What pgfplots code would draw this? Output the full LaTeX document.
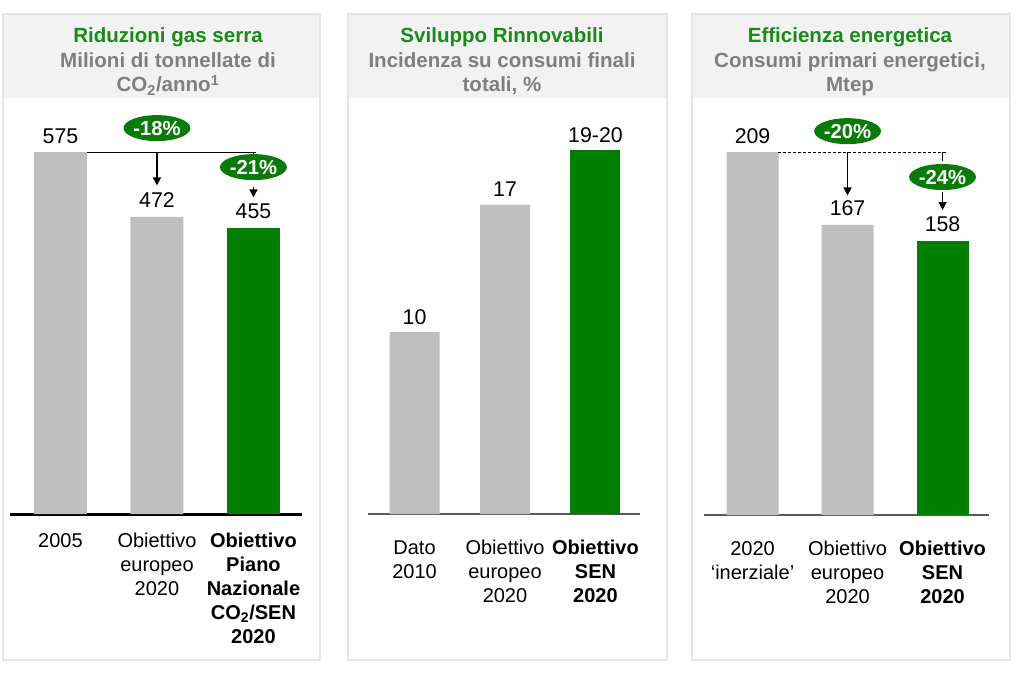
\documentclass[border=0pt]{standalone}
\usepackage{fontspec}
\setmainfont{Liberation Sans}
\usepackage{pgfplots}
\pgfplotsset{compat=1.18}
\usetikzlibrary{shapes.geometric,arrows.meta}
\definecolor{barg}{HTML}{BFBFBF}
\definecolor{bargreen}{HTML}{007F00}
\definecolor{titlegreen}{HTML}{1A8A1A}
\definecolor{ellgreen}{HTML}{0A7A0A}
\definecolor{subgray}{HTML}{7F7F7F}
\definecolor{headbg}{HTML}{F2F2F2}
\definecolor{framec}{HTML}{E6E6E6}
\definecolor{axgray}{HTML}{595959}
\pgfplotsset{
  panel/.style={
    scale only axis,
    axis x line*=bottom,
    axis y line=none,
    ymin=0,
    xtick={0,1,2},
    major tick length=0pt,
    xticklabel style={font=\fontsize{15}{18}\selectfont, align=center, anchor=north, inner sep=0pt},
    clip=false,
    /pgf/number format/assume math mode=true,
  },
  valnode/.style={nodes near coords, every node near coord/.append style={font=\fontsize{16}{19}\selectfont, anchor=base, inner sep=0pt, yshift=#1, text=black}},
}
\tikzset{
  pct/.style={ellipse, fill=ellgreen, minimum width=49.5pt, minimum height=19.5pt, inner sep=0pt, text=white, font=\bfseries\fontsize{15.2}{17}\selectfont},
  arr/.style={line width=1.1pt, -{Triangle[width=6pt,length=6pt]}},
}
\begin{document}
\begin{tikzpicture}
\begin{scope}[x=0.75pt,y=-0.75pt]
\useasboundingbox (0,0) rectangle (1024,674);
\fill[white] (0,0) rectangle (1024,674);
% frames
\foreach \a/\b in {3/320, 348/667, 692/1010}{
  \fill[headbg] (\a,14) rectangle (\b,98);
  \draw[framec, line width=1.5pt] (\a,14) rectangle (\b,660);
}
\tikzset{ttl/.style={anchor=base, text=titlegreen, font=\bfseries\fontsize{15.4}{18}\selectfont},
         sub/.style={anchor=base, text=subgray, font=\bfseries\fontsize{15.4}{18}\selectfont}}
\node[ttl] at (168,43) {Riduzioni gas serra};
\node[sub] at (168,68) {Milioni di tonnellate di};
\node[sub] at (168,92) {CO\textsubscript{2}/anno\textsuperscript{1}};
\node[ttl] at (502,43) {Sviluppo Rinnovabili};
\node[sub] at (502,68) {Incidenza su consumi finali};
\node[sub] at (502,92) {totali, \%};
\node[ttl] at (850,43) {Efficienza energetica};
\node[sub] at (850,68) {Consumi primari energetici,};
\node[sub] at (850,92) {Mtep};
\end{scope}

% Panel 1
\begin{axis}[panel, at={(7.5pt,-385.5pt)}, anchor=south west,
  width=219pt, height=283.3pt, xmin=-0.523, xmax=2.503, ymax=600,
  x axis line style={black, line width=2.25pt},
  xticklabel style={yshift=-14.25pt},
  xticklabels={{2005},{Obiettivo\\europeo\\2020},{\textbf{Obiettivo}\\\textbf{Piano}\\\textbf{Nazionale}\\\textbf{CO\textsubscript{2}/SEN}\\\textbf{2020}}}]
\addplot[ybar, bar width=39.75pt, bar shift=0pt, fill=barg, draw=none, valnode=6.75pt] coordinates {(0,575) (1,472)};
\addplot[ybar, bar width=39.75pt, bar shift=0pt, fill=bargreen, draw=none, valnode=6.75pt] coordinates {(2,455)};
\draw[black, line width=0.75pt] (axis cs:0.275,575) -- (axis cs:2.03,575);
\draw[arr] (axis cs:1,575) -- (axis cs:1,522);
\draw[line width=1.1pt] (axis cs:2.0,575) -- (axis cs:2.0,569);
\node[pct] at (axis cs:1,613) {-18\%};
\node[pct] at (axis cs:2.0,551) {-21\%};
\draw[arr] (axis cs:2.0,519) -- (axis cs:2.0,503);
\end{axis}

% Panel 2
\begin{axis}[panel, at={(276pt,-385.5pt)}, anchor=south west,
  width=204pt, height=300.3pt, xmin=-0.514, xmax=2.492, ymax=22,
  x axis line style={axgray, line width=1.1pt},
  xticklabel style={yshift=-19.5pt},
  xticklabels={{Dato\\2010},{Obiettivo\\europeo\\2020},{\textbf{Obiettivo}\\\textbf{SEN}\\\textbf{2020}}}]
\addplot[ybar, bar width=37.5pt, bar shift=0pt, fill=barg, draw=none, valnode=6pt] coordinates {(0,10) (1,17)};
\addplot[ybar, bar width=37.5pt, bar shift=0pt, fill=bargreen, draw=none, valnode=6pt, point meta=explicit symbolic] coordinates {(2,20) [19-20]};
\end{axis}

% Panel 3
\begin{axis}[panel, at={(528pt,-386.25pt)}, anchor=south west,
  width=213.75pt, height=299.6pt, xmin=-0.511, xmax=2.489, ymax=230,
  x axis line style={axgray, line width=1.1pt},
  xticklabel style={yshift=-19.5pt},
  xticklabels={{2020\\‘inerziale’},{Obiettivo\\europeo\\2020},{\textbf{Obiettivo}\\\textbf{SEN}\\\textbf{2020}}}]
\addplot[ybar, bar width=39pt, bar shift=0pt, fill=barg, draw=none, valnode=6.75pt] coordinates {(0,209) (1,167)};
\addplot[ybar, bar width=39pt, bar shift=0pt, fill=bargreen, draw=none, valnode=6.75pt] coordinates {(2,158)};
\draw[black, line width=0.75pt, dash pattern=on 2.25pt off 1.5pt] (axis cs:0.268,209) -- (axis cs:2.04,209);
\draw[arr] (axis cs:1,209) -- (axis cs:1,184);
\draw[line width=1.1pt] (axis cs:2.0,209) -- (axis cs:2.0,204);
\node[pct] at (axis cs:1,221) {-20\%};
\node[pct] at (axis cs:2.0,194.6) {-24\%};
\draw[arr] (axis cs:2.0,186) -- (axis cs:2.0,175.6);
\end{axis}
\end{tikzpicture}
\end{document}
